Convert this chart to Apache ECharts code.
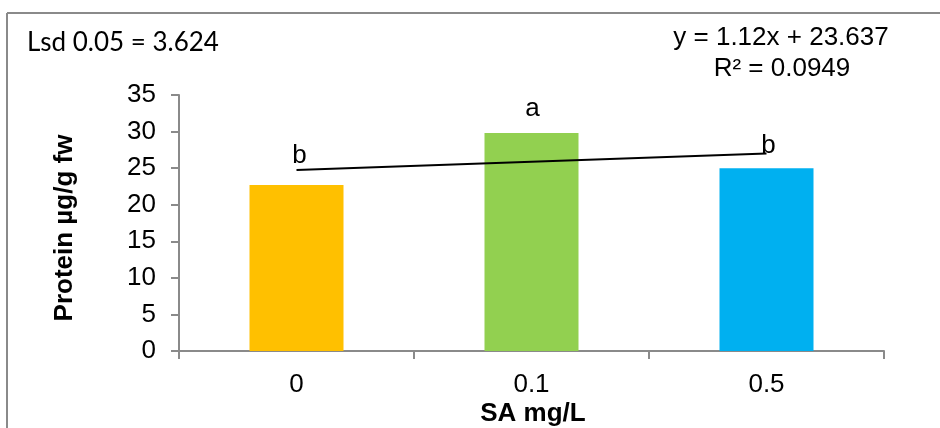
<!DOCTYPE html>
<html><head><meta charset="utf-8">
<script src="https://cdn.jsdelivr.net/npm/echarts@6/dist/echarts.min.js"></script>
<style>html,body{margin:0;padding:0;background:#fff}#c{width:940px;height:428px}</style>
</head><body><div id="c"></div>
<script>
const categories = ['0', '0.1', '0.5'];
const protein = [22.7, 29.8, 25.0];
const trend = [24.76, 25.88, 27.00];
const letters = ['b', 'a', 'b'];
const yTicks = { min: 0, max: 35, interval: 5 };
const barColors = ['#FFC000', '#92D050', '#00B0F0'];
const lsdText = 'Lsd 0.05 = 3.624';
const eqText = 'y = 1.12x + 23.637';
const r2Text = 'R² = 0.0949';
const yTitle = 'Protein µg/g fw';
const xTitle = 'SA mg/L';

const letterOffsets = [[3, -16], [1, -11], [2, -9]];
const FONT = '"Liberation Sans", Arial, sans-serif';
const chart = echarts.init(document.getElementById('c'), null, { renderer: 'canvas' });
chart.setOption({
  animation: false,
  backgroundColor: '#fff',
  grid: { left: 179, right: 56, top: 95, bottom: 77, containLabel: false },
  xAxis: {
    type: 'category', data: categories,
    axisLine: { lineStyle: { color: '#8a8a8a', width: 2 } },
    axisTick: { show: true, length: 8, lineStyle: { color: '#8a8a8a', width: 2 } },
    axisLabel: { color: '#000', fontSize: 26, fontFamily: FONT, margin: 21 },
    splitLine: { show: false }
  },
  yAxis: {
    type: 'value', min: yTicks.min, max: yTicks.max, interval: yTicks.interval,
    axisLine: { show: true, lineStyle: { color: '#8a8a8a', width: 2 } },
    axisTick: { show: true, length: 8, lineStyle: { color: '#8a8a8a', width: 2 } },
    axisLabel: { color: '#000', fontSize: 26, fontFamily: FONT, margin: 23 },
    splitLine: { show: false }
  },
  series: [
    {
      type: 'bar', barWidth: '40%',
      data: protein.map((v, i) => ({
        value: v,
        itemStyle: { color: barColors[i] },
        label: { show: true, position: 'top', distance: 0, offset: letterOffsets[i],
          formatter: () => letters[i], color: '#000', fontSize: 26, fontFamily: FONT }
      }))
    },
    {
      type: 'line', data: trend, symbol: 'none', z: 5,
      lineStyle: { color: '#000', width: 2 }
    }
  ],
  graphic: [
    { type: 'line', shape: { x1: 7, y1: 13, x2: 940, y2: 13 }, style: { stroke: '#8a8a8a', lineWidth: 2 } },
    { type: 'line', shape: { x1: 7, y1: 13, x2: 7, y2: 428 }, style: { stroke: '#8a8a8a', lineWidth: 2 } },
    { type: 'text', x: 27, y: 43, style: { text: lsdText, font: '26px Lato, "Open Sans", sans-serif', fill: '#000', textAlign: 'left', textVerticalAlign: 'middle' } },
    { type: 'text', x: 781, y: 38, style: { text: eqText, font: '26px ' + FONT, fill: '#000', textAlign: 'center', textVerticalAlign: 'middle' } },
    { type: 'text', x: 782, y: 69, style: { text: r2Text, font: '26px ' + FONT, fill: '#000', textAlign: 'center', textVerticalAlign: 'middle' } },
    { type: 'text', x: 65, y: 228, rotation: Math.PI / 2, style: { text: yTitle, font: 'bold 26px ' + FONT, fill: '#000', textAlign: 'center', textVerticalAlign: 'middle' } },
    { type: 'text', x: 533, y: 414, style: { text: xTitle, font: 'bold 26px ' + FONT, fill: '#000', textAlign: 'center', textVerticalAlign: 'middle' } }
  ]
});
</script></body></html>
